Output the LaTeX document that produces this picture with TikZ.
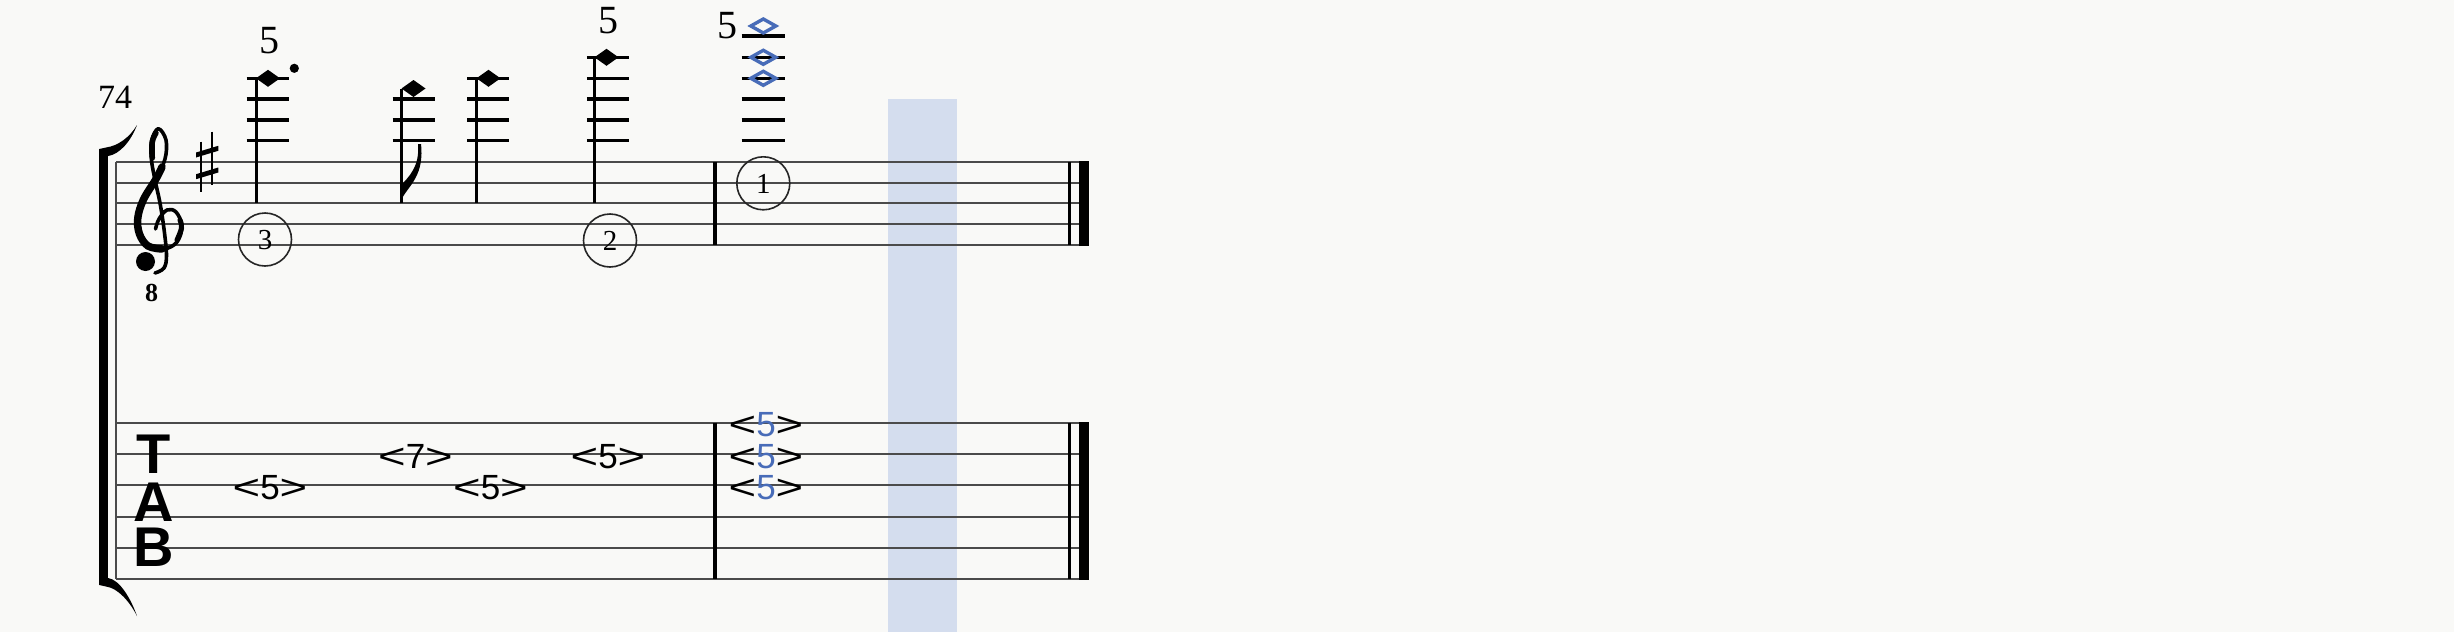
\documentclass[tikz,border=0pt]{standalone}
\usepackage{fontspec}
\usepackage{graphicx}
\setmainfont{Liberation Serif}
\newfontfamily\tabfont{Liberation Sans}
\definecolor{bg}{RGB}{249,249,247}
\definecolor{hl}{RGB}{212,221,238}
\definecolor{harm}{RGB}{72,108,184}
\definecolor{staffc}{RGB}{75,75,75}
\newcommand\myhead[2]{\fill (#1-12,#2) -- (#1,#2-8.5) -- (#1+12,#2) -- (#1,#2+8.5) -- cycle;}
\newcommand\myhollow[2]{\draw[harm,line width=3.4,line join=miter] (#1-12.5,#2) -- (#1,#2-7) -- (#1+12.5,#2) -- (#1,#2+7) -- cycle;}
\newcommand\mytab[1]{{\tabfont\fontsize{35}{35}\selectfont\scalebox{1.35}[1]{<}#1\scalebox{1.35}[1]{>}}}
\begin{document}
\begin{tikzpicture}[x=1pt,y=-1pt,
  staffline/.style={staffc,line width=2},
  ledger/.style={black,line width=3.2},
  stemline/.style={black,line width=3},
  barl/.style={black,line width=3.4},
  strcircle/.style={draw=black!85,line width=1.6},
  fret/.style={inner sep=0,anchor=base,font=\fontsize{40}{40}\selectfont},
  strnum/.style={inner sep=0,anchor=base,font=\fontsize{29}{29}\selectfont},
  tabtxt/.style={inner sep=0,anchor=base},
  tabclef/.style={inner sep=0,anchor=base,text height=38pt,text depth=0pt,font=\tabfont\bfseries\fontsize{56}{56}\selectfont}]
\useasboundingbox (0,0) rectangle (2454,632);
\fill[bg] (0,0) rectangle (2454,632);
\fill[hl] (888,99.3) rectangle (957,632);
% staves
\foreach \y in {162.3,182.7,203.3,224,245} \draw[staffline] (116,\y) -- (1089,\y);
\foreach \i in {0,...,5} \draw[staffline] (116,422.7+31.32*\i) -- (1089,422.7+31.32*\i);
\draw[staffc,line width=2] (116,162.3) -- (116,579.3);
% bracket
\fill (99.3,149) rectangle (108.3,585);
\fill (99.3,149) -- (106,147.5) .. controls (118,146) and (130,137) .. (137,125) .. controls (131,141) and (120,154) .. (108.3,156) -- (99.3,156) -- cycle;
\fill (99.3,585) -- (106,586.5) .. controls (118,588) and (130,602) .. (137,616) .. controls (131,599) and (120,580) .. (108.3,578) -- (99.3,578) -- cycle;
% measure number
\node[fret,font=\fontsize{34}{34}\selectfont] (mnum) at (115,108.3) {74};
% clef
\draw[line width=3.6,line cap=round,line join=round] plot[smooth,tension=0.6] coordinates {(155.5,229) (159,219) (167,210) (176,212) (182,226) (177,242) (164,249) (148,246) (139,234) (137,218) (143,199) (156,178) (165,159) (166,140) (158.3,128.7) (151.5,141) (151.5,160) (155,180) (160,203) (164,229) (166.5,255) (164,268) (155,273)};
\draw[line width=7.5,line cap=round] plot[smooth,tension=0.6] coordinates {(162,249) (148,246) (139.5,234) (137.8,218) (143.5,199.5) (156,179) (162,167)};
\draw[line width=5.5,line cap=round] plot[smooth,tension=0.6] coordinates {(156,133) (152.3,142) (152.3,158)};
\draw[line width=5,line cap=round] plot[smooth,tension=0.6] coordinates {(180,220) (181.5,228) (177,240)};
\fill (145.5,261.5) circle[radius=9.5pt];
\node[inner sep=0,anchor=base,font=\bfseries\fontsize{26}{26}\selectfont] (oct) at (151.7,301.7) {8};
% key signature sharp
\draw[line width=2.2] (201,141.7) -- (201,191.7);
\draw[line width=2.2] (211.7,131.7) -- (211.7,185);
\fill (196,152.5) -- (218.3,145.8) -- (218.3,150.8) -- (196,157.5) -- cycle;
\fill (196,174.2) -- (218.3,167.5) -- (218.3,172.5) -- (196,179.2) -- cycle;
% note 1
\foreach \y in {78.3,99,120,140.7} \draw[ledger] (246.7,\y) -- (289.3,\y);
\myhead{268}{78.3}
\draw[stemline] (256.5,78.3) -- (256.5,203.3);
\fill (294.3,68.3) circle[radius=4.6pt];
\node[fret] (f1) at (269.3,53.3) {5};
% note 2
\foreach \y in {99,120,140.7} \draw[ledger] (392.7,\y) -- (435,\y);
\myhead{413.5}{88.5}
\draw[stemline] (401.7,88.5) -- (401.7,203.3);
\fill (400.2,203.3) .. controls (404,188) and (425,180) .. (421,144) -- (418,144) .. controls (420,166) and (409,177) .. (400.2,186) -- cycle;
% note 3
\foreach \y in {78.3,99,120,140.7} \draw[ledger] (467,\y) -- (509,\y);
\myhead{488.5}{78.3}
\draw[stemline] (476.5,78.3) -- (476.5,203.3);
% note 4
\foreach \y in {57.3,78.3,99,120,140.7} \draw[ledger] (586.8,\y) -- (629,\y);
\myhead{606.5}{57.3}
\draw[stemline] (594.5,57.3) -- (594.5,203.3);
\node[fret] (f4) at (608,33.3) {5};
% string circles
\draw[strcircle] (265,239.5) circle[radius=26.5pt];
\node[strnum] (s3) at (265,249.5) {3};
\draw[strcircle] (610,240.5) circle[radius=26.5pt];
\node[strnum] (s2) at (610,250.5) {2};
% barline
\draw[barl] (715,162.3) -- (715,245);
\draw[barl] (715,422.7) -- (715,579.3);
% chord of harmonics
\foreach \y in {36,57.3,78.3,99,120,140.7} \draw[ledger] (741.7,\y) -- (785,\y);
\myhollow{763.3}{26}
\myhollow{763.3}{57.3}
\myhollow{763.3}{78.3}
\node[fret] (f5) at (727.5,38.3) {5};
\draw[strcircle] (763.3,183.3) circle[radius=26.5pt];
\node[strnum] (s1) at (763.3,193.3) {1};
% final barlines
\draw[line width=3] (1069,162.3) -- (1069,245);
\fill (1078.6,161.3) rectangle (1089.3,246);
\draw[line width=3] (1069,422.7) -- (1069,579.3);
\fill (1078.6,421.7) rectangle (1089.3,580.3);
% TAB clef
\node[tabclef] (tT) at (154,473.3) {T};
\node[tabclef] (tA) at (154,521.7) {A};
\node[tabclef] (tB) at (154,566.7) {B};
% tab numbers
\node[tabtxt] (t1) at (270,499.7) {\mytab{5}};
\node[tabtxt] (t2) at (415.5,468) {\mytab{7}};
\node[tabtxt] (t3) at (490.5,499.7) {\mytab{5}};
\node[tabtxt] (t4) at (608,468) {\mytab{5}};
\node[tabtxt] (t5) at (766,436.7) {\mytab{\textcolor{harm}{5}}};
\node[tabtxt] (t6) at (766,468) {\mytab{\textcolor{harm}{5}}};
\node[tabtxt] (t7) at (766,499.7) {\mytab{\textcolor{harm}{5}}};
\end{tikzpicture}
\end{document}
